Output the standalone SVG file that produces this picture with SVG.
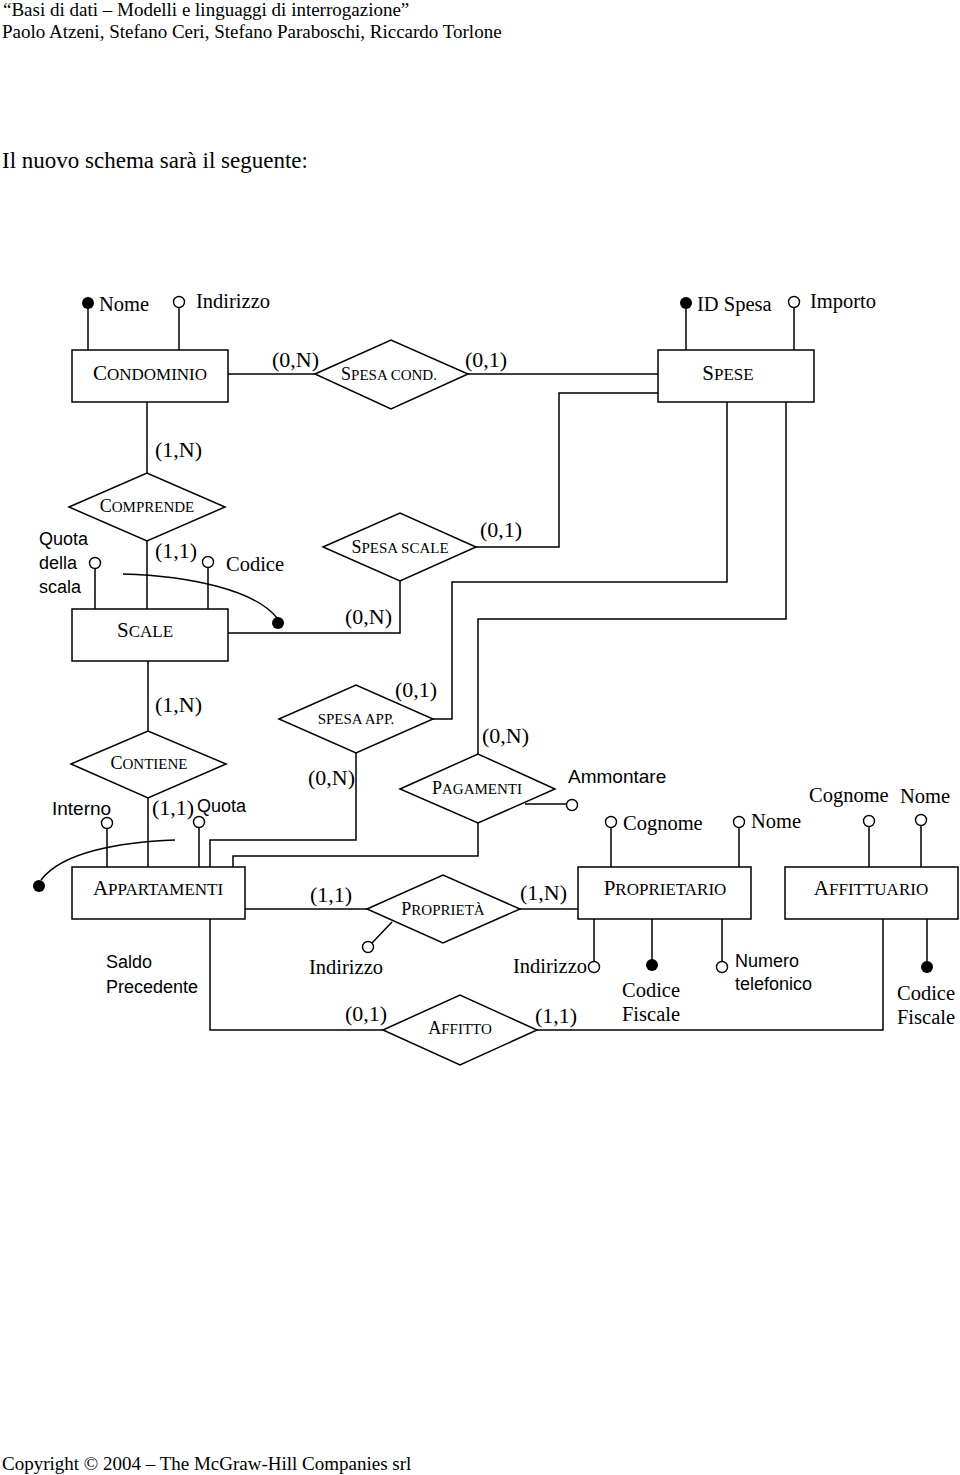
<svg xmlns="http://www.w3.org/2000/svg" width="960" height="1475" viewBox="0 0 960 1475">
<style>
.ln{stroke:#000;stroke-width:1.5;fill:none}
.box{fill:#fff;stroke:#000;stroke-width:1.5}
.hol{fill:#fff;stroke:#000;stroke-width:1.4}
.fil{fill:#000}
.t{font-family:"Liberation Serif",serif;font-size:20.5px;fill:#000}
.s{font-family:"Liberation Sans",sans-serif;font-size:18px;fill:#000}
.c{font-family:"Liberation Serif",serif;font-size:22px;fill:#000}
.h{font-family:"Liberation Serif",serif;font-size:19px;fill:#000}
.en{font-family:"Liberation Serif",serif;font-size:17px;fill:#000;text-anchor:middle}
.en .b{font-size:21px}
.rl{font-family:"Liberation Serif",serif;font-size:15px;fill:#000;text-anchor:middle}
.rl .b{font-size:18px}
.m{text-anchor:middle}
</style>
<rect width="960" height="1475" fill="#fff"/>
<text class="h" x="3" y="16">“Basi di dati – Modelli e linguaggi di interrogazione”</text>
<text class="h" x="2" y="38">Paolo Atzeni, Stefano Ceri, Stefano Paraboschi, Riccardo Torlone</text>
<text class="h" x="2" y="168" style="font-size:23px">Il nuovo schema sarà il seguente:</text>
<text class="h" x="2" y="1470">Copyright © 2004 – The McGraw-Hill Companies srl</text>

<g id="connectors">
<path class="ln" d="M228 374H315"/>
<path class="ln" d="M468 374H658"/>
<path class="ln" d="M658 393H559V547H476"/>
<path class="ln" d="M727 402V582H452V719H433"/>
<path class="ln" d="M786 402V619H478V754"/>
<path class="ln" d="M147 402V473"/>
<path class="ln" d="M147 541V609"/>
<path class="ln" d="M228 633H400V581"/>
<path class="ln" d="M148 661V731"/>
<path class="ln" d="M148 798V867"/>
<path class="ln" d="M356 753V840H210V867"/>
<path class="ln" d="M478 823V856H233V867"/>
<path class="ln" d="M245 909H367"/>
<path class="ln" d="M520 909H578"/>
<path class="ln" d="M210 919V1030H383"/>
<path class="ln" d="M537 1030H883V919"/>
</g>

<g id="cardinalities">
<text class="c" x="272" y="367">(0,N)</text>
<text class="c" x="465" y="367">(0,1)</text>
<text class="c" x="155" y="457">(1,N)</text>
<text class="c" x="155" y="558">(1,1)</text>
<text class="c" x="480" y="537">(0,1)</text>
<text class="c" x="345" y="624">(0,N)</text>
<text class="c" x="155" y="712">(1,N)</text>
<text class="c" x="152" y="815">(1,1)</text>
<text class="c" x="395" y="697">(0,1)</text>
<text class="c" x="308" y="785">(0,N)</text>
<text class="c" x="482" y="743">(0,N)</text>
<text class="c" x="310" y="902">(1,1)</text>
<text class="c" x="520" y="900">(1,N)</text>
<text class="c" x="345" y="1021">(0,1)</text>
<text class="c" x="535" y="1023">(1,1)</text>
</g>

<g id="condominio">
<rect class="box" x="72" y="350" width="156" height="52"/>
<text class="en" x="150" y="380"><tspan class="b">C</tspan>ONDOMINIO</text>
<path class="ln" d="M88 309V350M179 308V350"/>
<circle class="fil" cx="88" cy="303" r="6"/>
<circle class="hol" cx="179" cy="302" r="5.5"/>
<text class="t" x="99" y="311">Nome</text>
<text class="t" x="196" y="308">Indirizzo</text>
</g>

<g id="spese">
<rect class="box" x="658" y="350" width="156" height="52"/>
<text class="en" x="728" y="380"><tspan class="b">S</tspan>PESE</text>
<path class="ln" d="M686 309V350M794 308V350"/>
<circle class="fil" cx="686" cy="303" r="6"/>
<circle class="hol" cx="794" cy="302" r="5.5"/>
<text class="t" x="697" y="311">ID Spesa</text>
<text class="t" x="810" y="308">Importo</text>
</g>

<g id="spesa-cond">
<polygon class="box" points="315,374 391,340 468,374 391,409"/>
<text class="rl" x="389" y="380"><tspan class="b">S</tspan>PESA COND.</text>
</g>

<g id="comprende">
<polygon class="box" points="69,507 147,473 225,507 147,541"/>
<text class="rl" x="147" y="512"><tspan class="b">C</tspan>OMPRENDE</text>
</g>

<g id="spesa-scale">
<polygon class="box" points="323,547 400,513 476,547 400,581"/>
<text class="rl" x="400" y="553"><tspan class="b">S</tspan>PESA SCALE</text>
</g>

<g id="scale">
<rect class="box" x="72" y="609" width="156" height="52"/>
<text class="en" x="145" y="637"><tspan class="b">S</tspan>CALE</text>
<path class="ln" d="M95 568V609M208 568V609"/>
<circle class="hol" cx="95" cy="563" r="5.5"/>
<circle class="hol" cx="208" cy="562" r="5.5"/>
<text class="s" x="39" y="545">Quota</text>
<text class="s" x="39" y="569">della</text>
<text class="s" x="39" y="593">scala</text>
<text class="t" x="226" y="571">Codice</text>
<path class="ln" d="M123 574C190 576 255 590 277 618"/>
<circle class="fil" cx="278" cy="623" r="6"/>
</g>

<g id="contiene">
<polygon class="box" points="71,764 148,731 226,764 148,798"/>
<text class="rl" x="149" y="769"><tspan class="b">C</tspan>ONTIENE</text>
</g>

<g id="spesa-app">
<polygon class="box" points="279,719 356,685 433,719 356,753"/>
<text class="rl" x="356" y="724">SPESA APP.</text>
</g>

<g id="pagamenti">
<polygon class="box" points="400,789 478,754 555,789 478,823"/>
<text class="rl" x="477" y="794"><tspan class="b">P</tspan>AGAMENTI</text>
<path class="ln" d="M525 804H566"/>
<circle class="hol" cx="572" cy="805" r="5.5"/>
<text class="s" x="568" y="783" style="font-size:19px">Ammontare</text>
</g>

<g id="appartamenti">
<rect class="box" x="72" y="867" width="173" height="52"/>
<text class="en" x="158" y="895"><tspan class="b">A</tspan>PPARTAMENTI</text>
<path class="ln" d="M107 828V867M199 827V867"/>
<circle class="hol" cx="107" cy="823" r="5.5"/>
<circle class="hol" cx="199" cy="822" r="5.5"/>
<text class="s" x="52" y="815" style="font-size:19px">Interno</text>
<text class="s" x="197" y="812">Quota</text>
<path class="ln" d="M175 840C120 842 62 852 41 880"/>
<circle class="fil" cx="39" cy="886" r="6"/>
<text class="s" x="106" y="968">Saldo</text>
<text class="s" x="106" y="993">Precedente</text>
</g>

<g id="proprieta">
<polygon class="box" points="367,909 443,875 520,909 443,943"/>
<text class="rl" x="443" y="915"><tspan class="b">P</tspan>ROPRIETÀ</text>
<path class="ln" d="M392 922L372 943"/>
<circle class="hol" cx="368" cy="947" r="5.5"/>
<text class="t" x="309" y="974">Indirizzo</text>
</g>

<g id="proprietario">
<rect class="box" x="578" y="867" width="173" height="52"/>
<text class="en" x="665" y="895"><tspan class="b">P</tspan>ROPRIETARIO</text>
<path class="ln" d="M611 827V867M739 827V867"/>
<circle class="hol" cx="611" cy="822" r="5.5"/>
<circle class="hol" cx="739" cy="822" r="5.5"/>
<text class="t" x="623" y="830">Cognome</text>
<text class="t" x="751" y="828">Nome</text>
<path class="ln" d="M594 919V961M652 919V960M722 919V961"/>
<circle class="hol" cx="594" cy="967" r="5.5"/>
<circle class="fil" cx="652" cy="965" r="6"/>
<circle class="hol" cx="722" cy="967" r="5.5"/>
<text class="t" x="587" y="973" style="text-anchor:end">Indirizzo</text>
<text class="t m" x="651" y="997">Codice</text>
<text class="t m" x="651" y="1021">Fiscale</text>
<text class="s" x="735" y="967">Numero</text>
<text class="s" x="735" y="990">telefonico</text>
</g>

<g id="affitto">
<polygon class="box" points="383,1030 460,995 537,1030 460,1065"/>
<text class="rl" x="460" y="1034"><tspan class="b">A</tspan>FFITTO</text>
</g>

<g id="affittuario">
<rect class="box" x="785" y="867" width="173" height="52"/>
<text class="en" x="871" y="895"><tspan class="b">A</tspan>FFITTUARIO</text>
<path class="ln" d="M869 826V867M921 825V867"/>
<circle class="hol" cx="869" cy="821" r="5.5"/>
<circle class="hol" cx="921" cy="820" r="5.5"/>
<text class="t" x="809" y="802">Cognome</text>
<text class="t" x="900" y="803">Nome</text>
<path class="ln" d="M927 919V961"/>
<circle class="fil" cx="927" cy="967" r="6"/>
<text class="t m" x="926" y="1000">Codice</text>
<text class="t m" x="926" y="1024">Fiscale</text>
</g>
</svg>
